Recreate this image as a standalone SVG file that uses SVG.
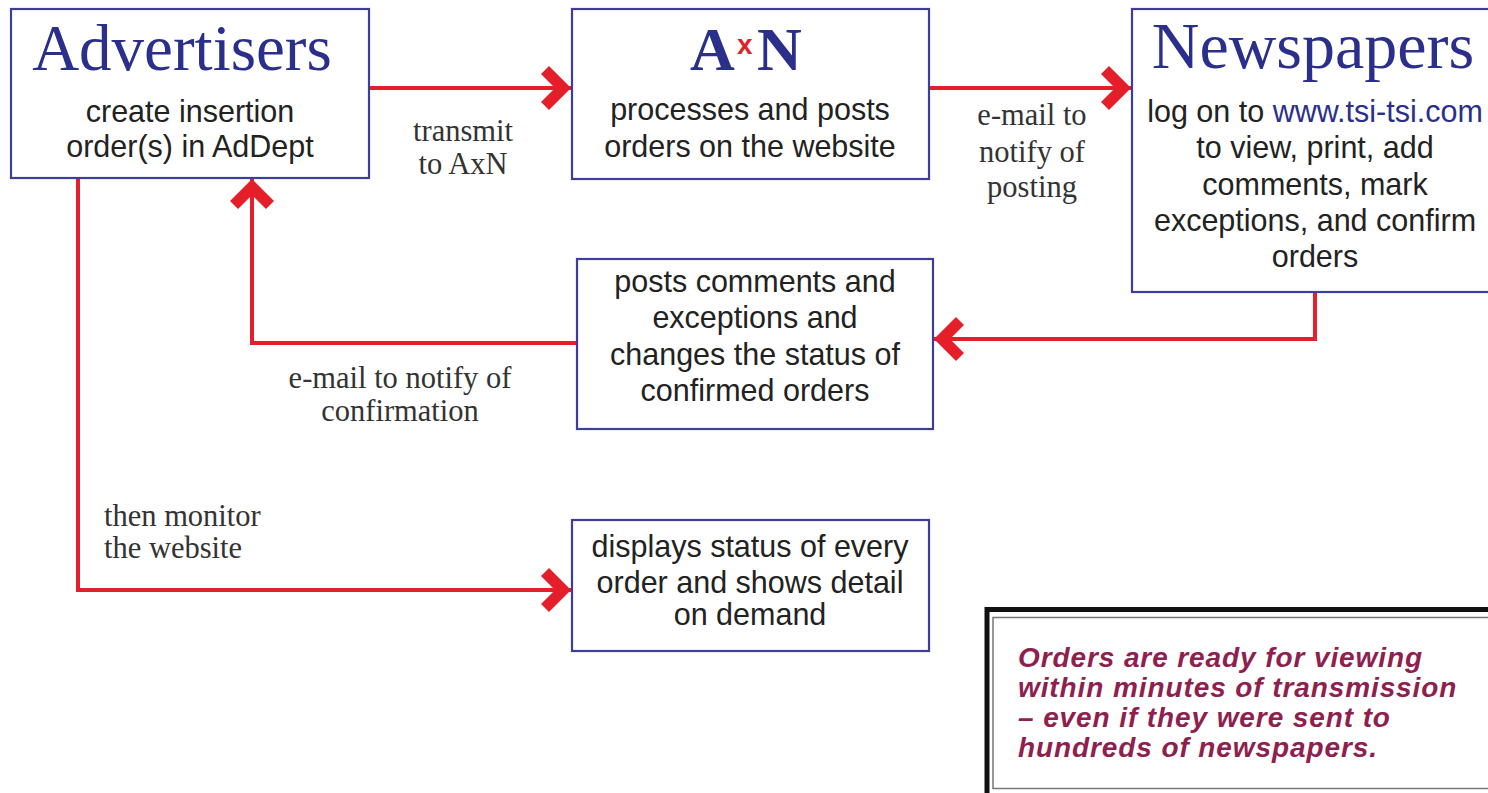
<svg xmlns="http://www.w3.org/2000/svg" width="1488" height="793" viewBox="0 0 1488 793">
<style>
.box{fill:#fff;stroke:#3d3d9c;stroke-width:2.2}
.title{font-family:"Liberation Serif","Times New Roman",serif;fill:#2b2f8c}
.body{font-family:"Liberation Sans",Arial,sans-serif;font-size:30.5px;fill:#222;text-anchor:middle}
.lbl{font-family:"Liberation Serif","Times New Roman",serif;font-size:30.5px;fill:#333}
.conn{fill:none;stroke:#e51f2a;stroke-width:4}
.note{font-family:"Liberation Sans",Arial,sans-serif;font-size:28px;letter-spacing:0.9px;font-weight:bold;font-style:italic;fill:#8e1f4f}
</style>
<defs>
<marker id="chev" markerUnits="userSpaceOnUse" markerWidth="40" markerHeight="50" viewBox="-32 -25 40 50" refX="0" refY="0" orient="auto" overflow="visible">
<path d="M0,0 L-22,-22 L-30,-14 L-16,0 L-30,14 L-22,22 Z" fill="#e51f2a"/>
</marker>
</defs>
<rect width="1488" height="793" fill="#fff"/>

<g id="connectors">
<path class="conn" d="M369,88 H571" marker-end="url(#chev)"/>
<path class="conn" d="M929,88 H1131" marker-end="url(#chev)"/>
<path class="conn" d="M1315,292 V339 H934" marker-end="url(#chev)"/>
<path class="conn" d="M577,343 H252 V179" marker-end="url(#chev)"/>
<path class="conn" d="M78,178 V590 H571" marker-end="url(#chev)"/>
<text class="lbl" text-anchor="middle" x="463" y="141">transmit</text>
<text class="lbl" text-anchor="middle" x="463" y="174">to AxN</text>
<text class="lbl" text-anchor="middle" x="1032" y="125">e-mail to</text>
<text class="lbl" text-anchor="middle" x="1032" y="162">notify of</text>
<text class="lbl" text-anchor="middle" x="1032" y="197">posting</text>
<text class="lbl" text-anchor="middle" x="400" y="388">e-mail to notify of</text>
<text class="lbl" text-anchor="middle" x="400" y="421">confirmation</text>
<text class="lbl" x="104" y="526">then monitor</text>
<text class="lbl" x="104" y="558">the website</text>
</g>

<g id="advertisers">
<rect class="box" x="11" y="9" width="358" height="169"/>
<text class="title" x="182" y="70" font-size="65" text-anchor="middle">Advertisers</text>
<text class="body" x="190" y="122">create insertion</text>
<text class="body" x="190" y="157">order(s) in AdDept</text>
</g>

<g id="axn">
<rect class="box" x="572" y="9" width="357" height="170"/>
<text class="title" y="70" font-size="62" font-weight="bold"><tspan x="690">A</tspan><tspan x="737" y="54" font-family="Liberation Sans,Arial,sans-serif" font-size="28" fill="#e51f2a">x</tspan><tspan x="757" y="70">N</tspan></text>
<text class="body" x="750" y="120">processes and posts</text>
<text class="body" x="750" y="157">orders on the website</text>
</g>

<g id="newspapers">
<rect class="box" x="1132" y="9" width="360" height="283"/>
<text class="title" x="1313" y="68" font-size="66" text-anchor="middle">Newspapers</text>
<text class="body" x="1315" y="122">log on to <tspan fill="#2b2f8c">www.tsi-tsi.com</tspan></text>
<text class="body" x="1315" y="158">to view, print, add</text>
<text class="body" x="1315" y="195">comments, mark</text>
<text class="body" x="1315" y="231">exceptions, and confirm</text>
<text class="body" x="1315" y="267">orders</text>
</g>

<g id="posts">
<rect class="box" x="577" y="259" width="356" height="170"/>
<text class="body" x="755" y="292">posts comments and</text>
<text class="body" x="755" y="328">exceptions and</text>
<text class="body" x="755" y="365">changes the status of</text>
<text class="body" x="755" y="401">confirmed orders</text>
</g>

<g id="displays">
<rect class="box" x="572" y="520" width="357" height="131"/>
<text class="body" x="750" y="557">displays status of every</text>
<text class="body" x="750" y="593">order and shows detail</text>
<text class="body" x="750" y="625">on demand</text>
</g>

<g id="note">
<rect x="987" y="609.5" width="520" height="200" fill="#fff" stroke="#111" stroke-width="5"/>
<rect x="993" y="617.5" width="510" height="171" fill="none" stroke="#777" stroke-width="1.5"/>
<text class="note" x="1018" y="667">Orders are ready for viewing</text>
<text class="note" x="1018" y="697">within minutes of transmission</text>
<text class="note" x="1018" y="727">– even if they were sent to</text>
<text class="note" x="1018" y="757">hundreds of newspapers.</text>
</g>
</svg>
